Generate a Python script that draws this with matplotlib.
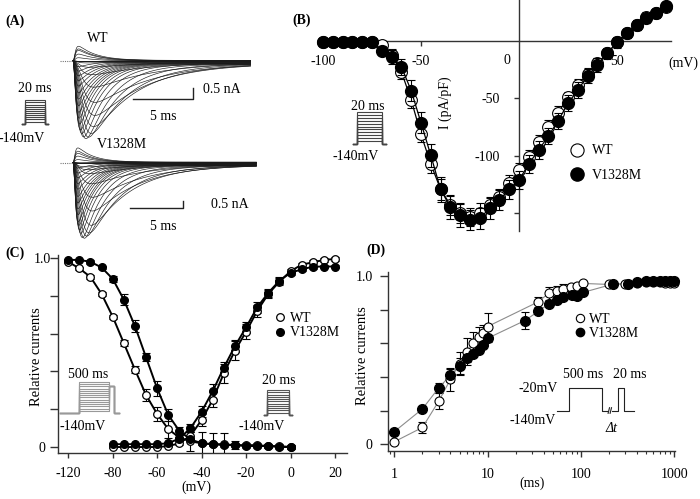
import numpy as np
import matplotlib
matplotlib.use("Agg")
import matplotlib.pyplot as plt
from matplotlib.lines import Line2D
from matplotlib.ticker import FixedLocator, FixedFormatter, LogLocator, NullFormatter

plt.rcParams["font.family"] = ["Liberation Serif", "DejaVu Serif"]
plt.rcParams["axes.unicode_minus"] = False
plt.rcParams["font.size"] = 10

# ---------------- data ----------------
# (B) current density - voltage
iv_v = [-100, -95, -90, -85, -80, -75, -70, -65, -60, -55, -50, -45, -40, -35, -30, -25,
        -20, -15, -10, -5, 0, 5, 10, 15, 20, 25, 30, 35, 40, 45, 50, 55, 60, 65, 70, 75]
iv_wt = [-1, -1, -1, -1, -1, -1, -3.8, -12.4, -26.9, -51.5, -81.3, -107, -129, -142.6, -149.9,
         -152.8, -149.3, -142.6, -135.4, -123.8, -112.3, -100.7, -87.7, -74.7, -62.5, -49.2,
         -38.5, -28.9, -19.7, -11, -1.4, 6.4, 13.6, 20.8, 23.7, 29]
iv_wt_err = [0, 0, 0, 0, 0, 0, 3, 5, 6, 7, 7, 8, 9, 9, 8, 8, 8, 7, 7, 7, 6, 6, 6, 6, 6, 5,
             5, 5, 5, 4, 4, 4, 4, 4, 3, 3]
iv_mut = [-1, -1, -1, -1, -1, -1, -8.7, -14.5, -22.6, -43.4, -71.2, -99.5, -129, -144.7, -151.3,
          -155.7, -154.2, -145.5, -138.3, -129, -121, -107, -94.9, -82.8, -69.4, -54.4,
          -42.8, -30.7, -21.1, -11, -1.4, 6.4, 13.6, 19.4, 23.7, 30.4]
iv_mut_err = [0, 0, 0, 0, 0, 0, 4, 6, 7, 9, 9, 10, 11, 10, 10, 9, 9, 9, 9, 8, 8, 8, 8, 7, 7,
              7, 7, 6, 6, 5, 5, 4, 4, 4, 4, 3]
# gain used to display the raw current families of panel (A) (pF)
trace_gain_pf = [23.8, 33.3]
trace_end_ms = [14.8, 17.3]

# (C) steady-state inactivation and activation
inact_v = [-100, -95, -90, -85, -80, -75, -70, -65, -60, -55, -50, -45, -40, -35, -30,
           -25, -20, -15, -10, -5, 0]
inact_wt = [0.98, 0.945, 0.90, 0.81, 0.69, 0.55, 0.41, 0.275, 0.175, 0.095, 0.05, 0.03,
            0.02, 0.015, 0.015, 0.01, 0.01, 0.01, 0.005, 0.005, 0.0]
inact_wt_err = [0.005, 0.01, 0.01, 0.01, 0.01, 0.015, 0.02, 0.03, 0.035, 0.045, 0.02, 0.05,
                0.06, 0.06, 0.06, 0.02, 0.01, 0.01, 0.01, 0.01, 0.01]
inact_mut = [0.99, 0.99, 0.98, 0.95, 0.89, 0.78, 0.64, 0.475, 0.31, 0.17, 0.085, 0.04,
             0.02, 0.015, 0.01, 0.01, 0.005, 0.005, 0.005, 0.0, 0.0]
inact_mut_err = [0.005, 0.005, 0.01, 0.01, 0.015, 0.03, 0.03, 0.02, 0.04, 0.03, 0.02, 0.01,
                 0.01, 0.01, 0.01, 0.01, 0.01, 0.01, 0.01, 0.01, 0.01]
act_v = [-80, -75, -70, -65, -60, -55, -50, -45, -40, -35, -30, -25, -20, -15, -10, -5,
         0, 5, 10, 15, 20]
act_wt = [0.0, 0.0, 0.0, 0.0, 0.0, 0.005, 0.02, 0.06, 0.143, 0.25, 0.39, 0.51, 0.61, 0.72,
          0.81, 0.875, 0.93, 0.965, 0.977, 0.99, 0.995]
act_wt_err = [0.005, 0.005, 0.005, 0.005, 0.005, 0.005, 0.01, 0.02, 0.03, 0.04, 0.05, 0.05,
              0.04, 0.03, 0.02, 0.02, 0.01, 0.01, 0.01, 0.01, 0.01]
act_mut = [0.015, 0.015, 0.015, 0.015, 0.015, 0.02, 0.045, 0.10, 0.187, 0.296, 0.42, 0.534,
           0.633, 0.739, 0.816, 0.88, 0.922, 0.94, 0.954, 0.955, 0.955]
act_mut_err = [0.005, 0.005, 0.005, 0.005, 0.005, 0.005, 0.01, 0.02, 0.03, 0.04, 0.03, 0.03,
               0.03, 0.03, 0.02, 0.02, 0.01, 0.01, 0.01, 0.01, 0.01]
c_xticks = [-100, -80, -60, -40, -20, 0, 20]
c_xticklabels = ["-120", "-80", "-60", "-40", "-20", "0", "20"]

# (D) recovery from inactivation
rec_t_wt = [1, 2, 3, 4, 5, 6, 7, 8, 9, 10, 35, 45, 55, 65, 78, 90, 106, 200, 300, 400, 500,
            600, 700, 800, 900, 1000]
rec_wt = [0.015, 0.10, 0.257, 0.386, 0.48, 0.55, 0.60, 0.64, 0.66, 0.70, 0.847, 0.897, 0.913,
          0.92, 0.933, 0.94, 0.956, 0.95, 0.955, 0.96, 0.965, 0.965, 0.965, 0.96, 0.96, 0.96]
rec_wt_err = [0.01, 0.03, 0.05, 0.07, 0.07, 0.08, 0.07, 0.06, 0.05, 0.08, 0.03, 0.04, 0.03,
              0.03, 0.02, 0.02, 0.01, 0.01, 0.01, 0.01, 0.01, 0.01, 0.01, 0.01, 0.01, 0.01]
rec_t_mut = [1, 2, 3, 4, 5, 6, 7, 8, 9, 10, 25, 35, 45, 55, 65, 80, 90, 106, 220, 320, 400,
             500, 600, 700, 800, 900, 1000]
rec_mut = [0.075, 0.21, 0.336, 0.41, 0.465, 0.51, 0.536, 0.56, 0.59, 0.63, 0.735, 0.79, 0.834,
           0.857, 0.877, 0.887, 0.88, 0.903, 0.952, 0.952, 0.966, 0.97, 0.972, 0.97, 0.968,
           0.97, 0.972]
rec_mut_err = [0.01, 0.01, 0.03, 0.04, 0.05, 0.02, 0.02, 0.02, 0.02, 0.02, 0.05, 0.01, 0.01,
               0.01, 0.01, 0.01, 0.01, 0.01, 0.01, 0.01, 0.01, 0.01, 0.01, 0.01, 0.01, 0.01, 0.01]
d_xticks = [1, 10, 100, 1000]

# voltage protocols (schematic)
step20_levels = [-120, -100, -80, -60, -40, -20, 0, 20, 40, 60, 80]
prepulse_levels = [-130, -120, -110, -100, -90, -80, -70, -60, -50, -40, -30, -20, -10, 0]

# ---------------- figure ----------------
W, H = 700, 499
fig = plt.figure(figsize=(7, 4.99), dpi=100)
INK = "#222222"


def box(x0, y0, x1, y1):
    return [x0 / W, 1 - y1 / H, (x1 - x0) / W, (y1 - y0) / H]


def T(x, y, s, **kw):
    kw.setdefault("ha", "center")
    kw.setdefault("va", "center")
    kw.setdefault("fontsize", 10)
    fig.text(x / W, 1 - y / H, s, **kw)


def step_inset(rect, xlim, ylim, levels, dur, feet, color, lw=0.8):
    a = fig.add_axes(rect)
    a.set_xlim(*xlim)
    a.set_ylim(*ylim)
    a.axis("off")
    for v in levels:
        a.plot([-feet, 0, 0, dur, dur, dur + feet], [-140, -140, v, v, -140, -140],
               color=color, lw=lw, solid_joinstyle="miter")
    return a


# ---------- (A) raw current families ----------
def draw_traces(ax, dens, gain_pf, t_end):
    t = np.linspace(0, t_end, 800)
    for v, d in zip(iv_v, dens):
        amp = d * gain_pf / 1000.0
        tm = 0.13 + 0.45 * np.exp(-((v + 45) / 25.0) ** 2)
        th = 1.5 + 4.0 / (1 + np.exp((v + 38) / 8.0))
        act = 1 - np.exp(-t / tm)
        shape = act ** 3 * np.exp(-t / th)
        shape = shape / shape.max()
        cur = amp * (0.96 * shape + 0.04 * act)
        ax.plot(t, cur, color="#1a1a1a", lw=0.45)


# WT: 12 px/ms, 21.4 px/nA, baseline at y=61 px, t0 at x=73 px
axA1 = fig.add_axes(box(55, 30, 262, 150))
axA1.set_xlim((55 - 73) / 12.0, (262 - 73) / 12.0)
axA1.set_ylim(-(150 - 61) / 21.4, (61 - 30) / 21.4)
axA1.axis("off")
draw_traces(axA1, iv_wt, trace_gain_pf[0], trace_end_ms[0])
axA1.plot([-1.1, 0], [0, 0], ls=(0, (1, 1)), color="#777777", lw=0.8)
axA1.plot([5.0, 10.0, 10.0], [-1.78, -1.78, -1.28], color=INK, lw=1.0)

# V1328M: 10.6 px/ms, 14.6 px/nA, baseline at y=162.7 px
axA2 = fig.add_axes(box(55, 132, 262, 250))
axA2.set_xlim((55 - 73) / 10.6, (262 - 73) / 10.6)
axA2.set_ylim(-(250 - 162.7) / 14.6, (162.7 - 132) / 14.6)
axA2.axis("off")
draw_traces(axA2, iv_mut, trace_gain_pf[1], trace_end_ms[1])
axA2.plot([-1.25, 0], [0, 0], ls=(0, (1, 1)), color="#777777", lw=0.8)
axA2.plot([5.4, 10.4, 10.4], [-3.12, -3.12, -2.62], color=INK, lw=1.0)

T(15, 21, "(A)", fontweight="bold")
T(98, 39, "WT")
T(122, 144, "V1328M")
T(222, 89, "0.5 nA")
T(163, 117, "5 ms")
T(230, 204, "0.5 nA")
T(163, 227, "5 ms")
T(35, 88, "20 ms")
T(22, 138, "-140mV")
step_inset(box(20, 96, 50, 128), (-5, 25), (-180.4, 120.4), step20_levels, 20, 3, "#444444")

# ---------- (B) I-V ----------
axB = fig.add_axes(box(310, 0, 680, 235))
axB.set_xlim((310 - 519) / 1.96, (680 - 519) / 1.96)
axB.set_ylim(-(235 - 40.7) / 1.152, 40.7 / 1.152)
axB.patch.set_alpha(0)
for s in ["top", "right"]:
    axB.spines[s].set_visible(False)
axB.spines["left"].set_position(("data", 0))
axB.spines["bottom"].set_position(("data", 0))
axB.spines["left"].set_bounds(-165, 40.7 / 1.152)
axB.spines["bottom"].set_bounds(-100, 77.5)
for s in ["left", "bottom"]:
    axB.spines[s].set_linewidth(1.0)
    axB.spines[s].set_color("#333333")
axB.set_xticks([-100, -50, 50])
axB.set_xticklabels(["-100", "-50", "50"])
axB.set_yticks([-50, -100, -150])
axB.set_yticklabels(["-50", "-100", ""])
axB.tick_params(axis="x", direction="out", length=3.5, width=1, pad=7, labelsize=10, color="#333333")
axB.tick_params(axis="y", direction="out", length=3.5, width=1, pad=10, labelsize=10, color="#333333")
axB.errorbar(iv_v, iv_wt, yerr=iv_wt_err, fmt="none", ecolor="black", elinewidth=0.8,
             capsize=3, capthick=0.8, zorder=3)
axB.plot(iv_v, iv_wt, "-", color="black", lw=0.9, zorder=3)
axB.plot(iv_v, iv_wt, "o", ms=8.5, mfc="white", mec="black", mew=0.8, zorder=4, clip_on=False)
axB.errorbar(iv_v, iv_mut, yerr=iv_mut_err, fmt="none", ecolor="black", elinewidth=0.8,
             capsize=3, capthick=0.8, zorder=4)
axB.plot(iv_v, iv_mut, "-", color="black", lw=0.9, zorder=4)
axB.plot(iv_v, iv_mut, "o", ms=8.5, mfc="black", mec="black", zorder=5, clip_on=False)
T(507, 60, "0")
T(683, 63, "(mV)")
T(445, 103, "I (pA/pF)", rotation=90)
T(302, 20, "(B)", fontweight="bold")
T(368, 106, "20 ms")
T(356, 157, "-140mV")
step_inset(box(350, 107, 390, 148), (-5.6, 26.4), (-167.5, 114.4), step20_levels, 20, 3, "#444444")
hB = [Line2D([], [], marker="o", ls="none", ms=9.5, mfc="white", mec="black", mew=0.8),
      Line2D([], [], marker="o", ls="none", ms=9.5, mfc="black", mec="black")]
fig.legend(hB, ["WT", "V1328M"], loc="upper left", bbox_to_anchor=(569.8 / W, 1 - 144.5 / H),
           frameon=False, borderpad=0, borderaxespad=0, handlelength=1.0, handletextpad=0.6,
           labelspacing=0.8, fontsize=10)

# ---------- (C) activation / inactivation ----------
axC = fig.add_axes(box(58, 255, 347, 452.7))
axC.set_xlim(-104.6, 25.4)
axC.set_ylim(-0.030, 1.016)
for s in ["top", "right"]:
    axC.spines[s].set_visible(False)
for s in ["left", "bottom"]:
    axC.spines[s].set_linewidth(1.0)
    axC.spines[s].set_color("#333333")
axC.xaxis.set_major_locator(FixedLocator(c_xticks))
axC.xaxis.set_major_formatter(FixedFormatter(c_xticklabels))
axC.set_yticks([0, 0.2, 0.4, 0.6, 0.8, 1.0])
axC.set_yticklabels(["0", "", "", "", "", "1.0"])
axC.tick_params(axis="x", direction="out", length=3.5, width=1, pad=6.5, labelsize=10, color="#333333")
axC.tick_params(axis="y", direction="out", length=5.8, width=1, pad=5.8, labelsize=10, color="#333333")
for lab in axC.get_yticklabels():
    lab.set_horizontalalignment("center")
ekw = dict(fmt="none", ecolor="black", elinewidth=0.8, capsize=3, capthick=0.8, zorder=3)
axC.errorbar(inact_v, inact_wt, yerr=inact_wt_err, **ekw)
axC.errorbar(inact_v, inact_mut, yerr=inact_mut_err, **ekw)
axC.errorbar(act_v, act_wt, yerr=act_wt_err, **ekw)
axC.errorbar(act_v, act_mut, yerr=act_mut_err, **ekw)
mk_open = dict(marker="o", ms=5.5, mfc="white", mec="black", mew=0.9, color="black", lw=1.4)
mk_fill = dict(marker="o", ms=5.5, mfc="black", mec="black", color="black", lw=1.4)
axC.plot(inact_v, inact_wt, zorder=4, clip_on=False, **mk_open)
axC.plot(act_v, act_wt, zorder=4, clip_on=False, **mk_open)
axC.plot(inact_v, inact_mut, zorder=5, clip_on=False, **mk_fill)
axC.plot(act_v, act_mut, zorder=5, clip_on=False, **mk_fill)
T(15, 253, "(C)", fontweight="bold")
T(37, 357, "Relative currents", rotation=90, fontsize=10.5)
T(196, 487, "(mV)")
T(88, 375, "500 ms")
T(83, 427, "-140mV")
T(279, 380, "20 ms")
T(262, 427, "-140mV")
# prepulse protocol (schematic, 500 ms conditioning then -20 mV test)
axPC = fig.add_axes(box(56, 378, 124, 420))
axPC.set_xlim((56 - 79) * 16.5, (124 - 79) * 16.5)
axPC.set_ylim(-140 - 7 * 4.52, 4 * 4.52)
axPC.axis("off")
for v in prepulse_levels:
    axPC.plot([-310, 0, 0, 500, 500, 580, 580, 660], [-140, -140, v, v, -20, -20, -140, -140],
              color="#999999", lw=0.8)
step_inset(box(262, 385, 295, 419), (-4.5, 25.5), (-175.2, 124), step20_levels, 20, 3, "#555555")
hC = [Line2D([], [], marker="o", ls="none", ms=5.5, mfc="white", mec="black", mew=0.9),
      Line2D([], [], marker="o", ls="none", ms=5.5, mfc="black", mec="black")]
fig.legend(hC, ["WT", "V1328M"], loc="upper left", bbox_to_anchor=(275.8 / W, 1 - 312 / H),
           frameon=False, borderpad=0, borderaxespad=0, handlelength=0.6, handletextpad=0.42,
           labelspacing=0.1, fontsize=10)

# ---------- (D) recovery ----------
axD = fig.add_axes(box(387.7, 272, 675, 450.7))
axD.set_xscale("log")
axD.set_xlim(0.85, 1020)
axD.set_ylim(-0.038, 1.024)
for s in ["top", "right"]:
    axD.spines[s].set_visible(False)
for s in ["left", "bottom"]:
    axD.spines[s].set_linewidth(1.0)
    axD.spines[s].set_color("#333333")
axD.xaxis.set_major_locator(FixedLocator(d_xticks))
axD.xaxis.set_major_formatter(FixedFormatter([str(v) for v in d_xticks]))
axD.xaxis.set_minor_locator(LogLocator(base=10, subs=(2, 3, 4, 5, 6, 7, 8, 9)))
axD.xaxis.set_minor_formatter(NullFormatter())
axD.set_yticks([0, 0.2, 0.4, 0.6, 0.8, 1.0])
axD.set_yticklabels(["0", "", "", "", "", "1.0"])
axD.tick_params(axis="x", which="major", direction="out", length=4.3, width=1, pad=8, labelsize=10, color="#333333")
axD.tick_params(axis="x", which="minor", direction="out", length=2.5, width=0.8, color="#333333")
axD.tick_params(axis="y", direction="out", length=5.8, width=1, pad=5, labelsize=10, color="#333333")
axD.errorbar(rec_t_wt, rec_wt, yerr=rec_wt_err, **ekw)
axD.errorbar(rec_t_mut, rec_mut, yerr=rec_mut_err, **ekw)
axD.plot(rec_t_wt, rec_wt, "-", color="#8c8c8c", lw=0.8, zorder=3)
axD.plot(rec_t_mut, rec_mut, "-", color="#8c8c8c", lw=0.8, zorder=3)
axD.plot(rec_t_wt, rec_wt, "o", ms=6.5, mfc="white", mec="black", mew=0.8, zorder=4, clip_on=False)
axD.plot(rec_t_mut, rec_mut, "o", ms=7, mfc="black", mec="black", zorder=5, clip_on=False)
T(376, 250, "(D)", fontweight="bold")
T(363, 356, "Relative currents", rotation=90, fontsize=10.5)
T(532, 483, "(ms)")
hD = [Line2D([], [], marker="o", ls="none", ms=6, mfc="white", mec="black", mew=0.8),
      Line2D([], [], marker="o", ls="none", ms=6, mfc="black", mec="black")]
fig.legend(hD, ["WT", "V1328M"], loc="upper left", bbox_to_anchor=(575.8 / W, 1 - 312.7 / H),
           frameon=False, borderpad=0, borderaxespad=0, handlelength=0.6, handletextpad=0.35,
           labelspacing=0.1, fontsize=10)
# recovery protocol (schematic)
axPD = fig.add_axes(box(550, 380, 640, 420))
axPD.set_xlim(-6.7, 83.3)
axPD.set_ylim(-140 - 9.3 * 5.357, -20 + 8.3 * 5.357)
axPD.axis("off")
axPD.plot([0, 12.6, 12.6, 45.6, 45.6, 51.4], [-140, -140, -20, -20, -140, -140], color=INK, lw=0.8)
axPD.plot([55.0, 61.0, 61.0, 67.6, 67.6, 77.6], [-140, -140, -20, -20, -140, -140], color=INK, lw=0.8)
axPD.plot([51.4, 52.8], [-154, -124], color=INK, lw=0.8)
axPD.plot([53.4, 54.8], [-154, -124], color=INK, lw=0.8)
T(538, 388, "-20mV")
T(533, 420, "-140mV")
T(583, 374, "500 ms")
T(630, 374, "20 ms")
T(611, 428, "\u0394t", fontstyle="italic")

fig.savefig("out.png", dpi=100)
